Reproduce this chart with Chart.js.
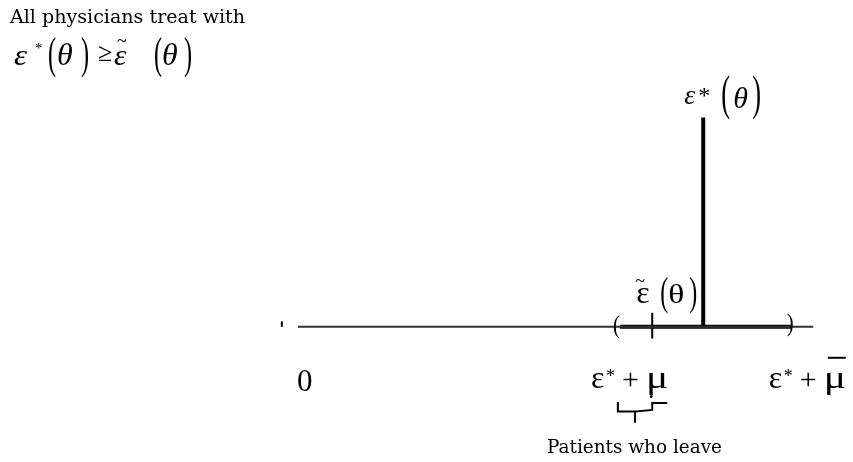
<!DOCTYPE html>
<html>
<head>
<meta charset="utf-8">
<title>Patients who leave</title>
<script src="https://cdn.jsdelivr.net/npm/chart.js@4.4.1/dist/chart.umd.min.js"></script>
<style>
    html, body { margin: 0; padding: 0; background: #fff; }
    #wrap { width: 853px; height: 462px; }
</style>
</head>
<body>
<div id="wrap"><canvas id="chart" width="853" height="462"></canvas></div>
<script>
'use strict';

/* ── Points on the line (data units, origin = 0) ── */
const LINE_START = 0;
const LINE_END = 9.6;
const LOWER = 6.0;        // ε* + μ
const TILDE = 6.6;        // ε̃(θ)
const STAR = 7.55;        // ε*(θ)
const UPPER = 9.2;        // ε* + μ̄
const STAR_HEIGHT = 3.9;
const ORIGIN_MARK = -0.3;

const X_RANGE = [-5.55, 10.34];
const Y_RANGE = [-2.52, 6.09];

/* ── Brace under ε* + μ ── */
const BRACE_X = [5.96, 5.96, 6.28, 6.28, 6.28, 6.60, 6.60, 6.88];
const BRACE_Y = [-1.40, -1.58, -1.58, -1.79, -1.58, -1.55, -1.42, -1.42];
const BRACE_DOT = [6.58, -1.30];

/* ── Texts ── */
const TITLE = 'All physicians treat with';
const NOTE = 'Patients who leave';
const ZERO = '0';

const PROSE_FONT = "'DejaVu Serif', serif";
const MATH_FONT = "'Liberation Serif', 'Times New Roman', serif";

function seg(x0, y0, x1, y1) {
    return [{ x: x0, y: y0 }, { x: x1, y: y1 }];
}

function lineSet(data, width, color) {
    return {
        data,
        showLine: true,
        borderColor: color,
        borderWidth: width,
        pointRadius: 0,
        pointHoverRadius: 0,
        fill: false,
        tension: 0,
    };
}

/* draw one piece of text, left edge + baseline, with optional stretch */
function put(ctx, s, left, base, size, opts = {}) {
    ctx.save();
    ctx.translate(left, base);
    ctx.scale(opts.sx || 1, opts.sy || 1);
    ctx.font = `${opts.italic ? 'italic ' : ''}${size}px ${opts.family || MATH_FONT}`;
    ctx.fillStyle = '#000';
    ctx.textAlign = 'left';
    ctx.textBaseline = 'alphabetic';
    ctx.fillText(s, 0, 0);
    ctx.restore();
}

/* prose squeezed to the width it has in the picture */
function putFit(ctx, s, left, base, size, width) {
    ctx.save();
    ctx.font = `${size}px ${PROSE_FONT}`;
    const w = ctx.measureText(s).width;
    ctx.restore();
    put(ctx, s, left, base, size, { family: PROSE_FONT, sx: width / w });
}

const labelPlugin = {
    id: 'labels',
    afterDatasetsDraw(chart) {
        const { ctx } = chart;
        const xs = chart.scales.x;
        const ys = chart.scales.y;
        const axisY = ys.getPixelForValue(0);

        /* top-left note */
        putFit(ctx, TITLE, 10, 23, 19, 235);
        put(ctx, 'ε', 14, 65, 30, { italic: true, sx: 1.1 });
        put(ctx, '*', 35, 53, 15);
        put(ctx, '(', 48, 68, 44, { sx: 0.55 });
        put(ctx, 'θ', 57, 65, 32, { italic: true });
        put(ctx, ')', 81, 68, 44, { sx: 0.55 });
        put(ctx, '≥', 98, 61, 26);
        put(ctx, '~', 117, 47, 18);
        put(ctx, 'ε', 114, 65, 30, { italic: true, sx: 1.05 });
        put(ctx, '(', 154, 68, 44, { sx: 0.55 });
        put(ctx, 'θ', 162, 65, 32, { italic: true });
        put(ctx, ')', 184, 68, 44, { sx: 0.55 });

        /* ε*(θ) on top of the bar */
        const sx = xs.getPixelForValue(STAR);
        const sy = ys.getPixelForValue(STAR_HEIGHT);
        put(ctx, 'ε', sx - 19, sy - 14, 28, { italic: true });
        put(ctx, '*', sx - 5, sy - 15, 24);
        put(ctx, '(', sx + 18, sy - 9, 48, { sx: 0.55 });
        put(ctx, 'θ', sx + 30, sy - 10, 30, { italic: true });
        put(ctx, ')', sx + 49, sy - 9, 48, { sx: 0.55 });

        /* ε̃(θ) above the tick */
        const tx = xs.getPixelForValue(TILDE);
        put(ctx, '~', tx - 17, axisY - 40, 18);
        put(ctx, 'ε', tx - 16, axisY - 24, 32);
        put(ctx, '(', tx + 8, axisY - 22, 40, { sx: 0.6 });
        put(ctx, 'θ', tx + 16, axisY - 24, 28, { sx: 1.2 });
        put(ctx, ')', tx + 37, axisY - 22, 40, { sx: 0.6 });

        /* interval brackets on the line */
        put(ctx, '(', xs.getPixelForValue(LOWER) - 7, axisY + 6, 26, { sx: 0.8 });
        put(ctx, ')', xs.getPixelForValue(UPPER) - 5, axisY + 4, 26, { sx: 0.8 });

        /* labels under the line */
        put(ctx, ZERO, xs.getPixelForValue(LINE_START) - 1, axisY + 64, 31);

        const base = axisY + 61;
        [LOWER, UPPER].forEach((v, i) => {
            const a = xs.getPixelForValue(v) + (i === 0 ? -29 : -23);
            put(ctx, 'ε', a, base, 32);
            put(ctx, '*', a + 15, base - 6, 18);
            put(ctx, '+', a + 31, base + 1, 30);
            put(ctx, 'μ', a + 55, base, 32, { sx: 1.3 });
            if (i === 1) {
                ctx.fillStyle = '#000';
                ctx.fillRect(a + 59, base - 31, 18, 2);
            }
        });

        putFit(ctx, NOTE, 547, 453, 19, 175);
    },
};

const datasets = [
    lineSet(seg(LINE_START, 0, LINE_END, 0), 2, '#333'),
    lineSet(seg(LOWER, 0, UPPER, 0), 4, '#000'),
    lineSet(seg(STAR, 0, STAR, STAR_HEIGHT), 4, '#000'),
    lineSet(seg(TILDE, -0.22, TILDE, 0.26), 2, '#000'),
    lineSet(seg(ORIGIN_MARK, 0, ORIGIN_MARK, 0.1), 2, '#000'),
    lineSet(BRACE_X.map((x, i) => ({ x, y: BRACE_Y[i] })), 2, '#000'),
    {
        data: [{ x: BRACE_DOT[0], y: BRACE_DOT[1] }],
        pointRadius: 1.5,
        pointHoverRadius: 0,
        pointBackgroundColor: '#000',
        pointBorderWidth: 0,
        showLine: false,
    },
];

new Chart(document.getElementById('chart'), {
    type: 'scatter',
    data: { datasets },
    options: {
        responsive: false,
        animation: false,
        layout: { padding: 0, autoPadding: false },
        scales: {
            x: { type: 'linear', display: false, min: X_RANGE[0], max: X_RANGE[1] },
            y: { type: 'linear', display: false, min: Y_RANGE[0], max: Y_RANGE[1] },
        },
        plugins: {
            legend: { display: false },
            tooltip: { enabled: false },
        },
    },
    plugins: [labelPlugin],
});
</script>
</body>
</html>
